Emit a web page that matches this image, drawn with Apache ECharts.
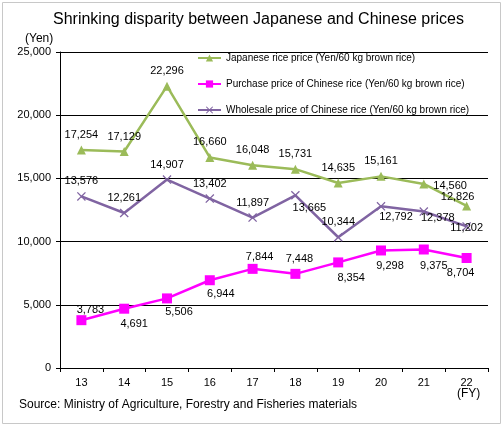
<!DOCTYPE html>
<html><head><meta charset="utf-8">
<script src="https://cdn.jsdelivr.net/npm/echarts@6/dist/echarts.min.js"></script>
<style>html,body{margin:0;padding:0;background:#fff}#c{width:504px;height:428px}</style>
</head><body><div id="c"></div>
<script>
const years = ['13','14','15','16','17','18','19','20','21','22'];
const japanese = [17254, 17129, 22296, 16660, 16048, 15731, 14635, 15161, 14560, 12826];
const purchase = [3783, 4691, 5506, 6944, 7844, 7448, 8354, 9298, 9375, 8704];
const wholesale = [13576, 12261, 14907, 13402, 11897, 13665, 10344, 12792, 12378, 11202];
const seriesNames = ['Japanese rice price (Yen/60 kg brown rice)','Purchase price of Chinese rice (Yen/60 kg brown rice)','Wholesale price of Chinese rice (Yen/60 kg brown rice)'];

// label placement (position, [dx, dy]) per point
const jpLabelLayout = [['top',[0,0]],['top',[0,0]],['top',[0,0]],['top',[0,0]],['top',[0,0]],['top',[0,0]],['top',[0,0]],['top',[0,0]],['right',[0,2]],['top',[-9,6]]];
const puLabelLayout = [['top',[9,5]],['bottom',[10,0]],['bottom',[12,-2]],['bottom',[11,-2]],['top',[7,4]],['top',[4,1]],['bottom',[13,0]],['bottom',[9,0]],['bottom',[10,1]],['bottom',[-6,-1]]];
const whLabelLayout = [['top',[0,0]],['top',[0,0]],['top',[0,0]],['top',[0,0]],['top',[0,0]],['bottom',[14,-2]],['top',[0,0]],['bottom',[15,-4]],['bottom',[14,-9]],['inside',[0,2]]];

const fmt = v => v.toLocaleString('en-US');
const FONT = 'Liberation Sans, Arial, sans-serif';
function mk(vals, layout){
  return vals.map((v,i)=>({value:v,label:{position:layout[i][0],offset:layout[i][1]}}));
}
const crossPath = 'path://M0,1L1,0L5,4L9,0L10,1L6,5L10,9L9,10L5,6L1,10L0,9L4,5Z';
const labelBase = {show:true,color:'#000',fontSize:11,fontFamily:FONT,distance:5,formatter:p=>fmt(p.value)};

const chart = echarts.init(document.getElementById('c'));
chart.setOption({
  animation:false,
  backgroundColor:'#fff',
  title:{text:'Shrinking disparity between Japanese and Chinese prices',left:53,top:12,padding:0,
    textStyle:{fontFamily:FONT,fontSize:16,fontWeight:'normal',color:'#000'}},
  grid:{left:60,right:16,top:52,bottom:60},
  legend:{orient:'vertical',left:197,top:53,padding:0,itemWidth:23,itemHeight:9,itemGap:16,
    textStyle:{fontFamily:FONT,fontSize:10,color:'#000'},data:seriesNames},
  xAxis:{type:'category',data:years,boundaryGap:true,
    axisLine:{lineStyle:{color:'#000',width:1}},
    axisTick:{show:true,length:4,lineStyle:{color:'#000'}},
    axisLabel:{color:'#000',fontFamily:FONT,fontSize:11,margin:9}},
  yAxis:{type:'value',min:0,max:25000,interval:5000,
    axisLine:{show:true,lineStyle:{color:'#000',width:1}},
    axisTick:{show:true,length:4,lineStyle:{color:'#000'}},
    axisLabel:{color:'#000',fontFamily:FONT,fontSize:11,margin:9,formatter:v=>fmt(v)},
    splitLine:{lineStyle:{color:'#000',width:1}}},
  graphic:[
    {type:'rect',shape:{x:2.5,y:2.5,width:498,height:421},style:{fill:'none',stroke:'#c8c8c8',lineWidth:1}},
    {type:'text',left:25,top:33,style:{text:'(Yen)',font:'12px '+FONT,fill:'#000'}},
    {type:'text',left:457,top:388,style:{text:'(FY)',font:'12px '+FONT,fill:'#000'}},
    {type:'text',left:19,top:399,style:{text:'Source: Ministry of Agriculture, Forestry and Fisheries materials',font:'12px '+FONT,fill:'#000'}}
  ],
  series:[
    {name:seriesNames[0],type:'line',data:mk(japanese,jpLabelLayout),symbol:'triangle',symbolSize:9,
      itemStyle:{color:'#9BBB59'},lineStyle:{color:'#9BBB59',width:2.5},label:labelBase,z:3},
    {name:seriesNames[1],type:'line',data:mk(purchase,puLabelLayout),symbol:'rect',symbolSize:10,
      itemStyle:{color:'#FF00FF'},lineStyle:{color:'#FF00FF',width:2.5},label:labelBase,z:3},
    {name:seriesNames[2],type:'line',data:mk(wholesale,whLabelLayout),symbol:crossPath,symbolSize:9,
      itemStyle:{color:'#8064A2'},lineStyle:{color:'#8064A2',width:2.5},label:labelBase,z:3}
  ]
});
</script></body></html>
